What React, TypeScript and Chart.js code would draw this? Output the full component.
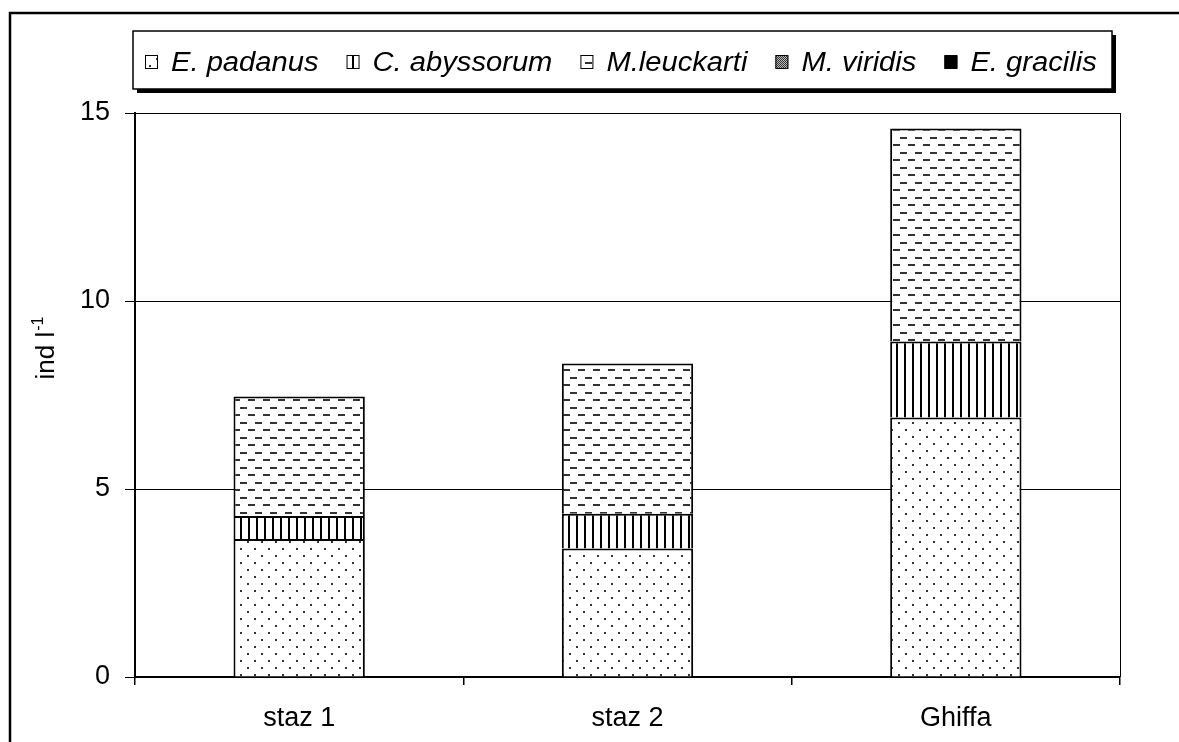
import React, { useEffect, useRef } from 'react';
import { Chart, registerables } from 'chart.js';

Chart.register(...registerables);

const categories = ['staz 1', 'staz 2', 'Ghiffa'];
const seriesNames = ['E. padanus', 'C. abyssorum', 'M.leuckarti', 'M. viridis', 'E. gracilis'];
const ePadanus = [3.67, 3.42, 6.9];
const cAbyssorum = [0.61, 0.92, 2.02];
const mLeuckarti = [3.18, 4.0, 5.67];
const mViridis = [0, 0, 0];
const eGracilis = [0, 0, 0];
const yTicks = [0, 5, 10, 15];
const yTitleMain = 'ind l';
const yTitleSup = '-1';

const FONT = "'Liberation Sans', Arial, sans-serif";

function makePattern(kind: string): CanvasPattern | string {
  if (kind === 'solid') return '#000000';
  const c = document.createElement('canvas');
  const ctx = c.getContext('2d') as CanvasRenderingContext2D;
  if (kind === 'dots') {
    c.width = 14; c.height = 14;
    ctx.fillStyle = '#ffffff'; ctx.fillRect(0, 0, 14, 14);
    ctx.fillStyle = '#333333';
    ctx.fillRect(2, 2, 2, 2);
    ctx.fillRect(9, 9, 2, 2);
  } else if (kind === 'vlines') {
    c.width = 8; c.height = 8;
    ctx.fillStyle = '#ffffff'; ctx.fillRect(0, 0, 8, 8);
    ctx.fillStyle = '#000000';
    ctx.fillRect(0, 0, 2, 8);
  } else if (kind === 'dashes') {
    c.width = 15; c.height = 15;
    ctx.fillStyle = '#ffffff'; ctx.fillRect(0, 0, 15, 15);
    ctx.fillStyle = '#333333';
    ctx.fillRect(0, 2, 7, 2);
    ctx.fillRect(8, 9, 7, 2);
  } else if (kind === 'checker') {
    c.width = 2; c.height = 2;
    ctx.fillStyle = '#bbbbbb'; ctx.fillRect(0, 0, 2, 2);
    ctx.fillStyle = '#333333';
    ctx.fillRect(0, 0, 1, 1);
    ctx.fillRect(1, 1, 1, 1);
  }
  const p = ctx.createPattern(c, 'repeat');
  return p as CanvasPattern;
}

export default function App() {
  const ref = useRef<HTMLCanvasElement | null>(null);

  useEffect(() => {
    const canvas = ref.current;
    if (!canvas) return;
    const fills = [
      makePattern('dots'),
      makePattern('vlines'),
      makePattern('dashes'),
      makePattern('checker'),
      makePattern('solid'),
    ];
    const values = [ePadanus, cAbyssorum, mLeuckarti, mViridis, eGracilis];

    const framePlugin = {
      id: 'framePlugin',
      beforeDraw(chart: any) {
        const ctx = chart.ctx as CanvasRenderingContext2D;
        ctx.save();
        ctx.fillStyle = '#ffffff';
        ctx.fillRect(0, 0, chart.width, chart.height);
        ctx.restore();
      },
      afterDraw(chart: any) {
        const ctx = chart.ctx as CanvasRenderingContext2D;
        const a = chart.chartArea;
        ctx.save();
        // right border of plot area
        ctx.strokeStyle = '#000000';
        ctx.lineWidth = 1;
        ctx.beginPath();
        ctx.moveTo(a.right + 0.5, a.top);
        ctx.lineTo(a.right + 0.5, a.bottom);
        ctx.stroke();
        // outer frame
        ctx.lineWidth = 2.5;
        ctx.strokeRect(10, 13, 1400, 1000);

        // legend box with shadow
        const lx = 133, ly = 31, lw = 979, lh = 58;
        ctx.fillStyle = '#000000';
        ctx.fillRect(lx + 4, ly + 4, lw, lh);
        ctx.fillStyle = '#ffffff';
        ctx.fillRect(lx, ly, lw, lh);
        ctx.lineWidth = 1.5;
        ctx.strokeStyle = '#000000';
        ctx.strokeRect(lx, ly, lw, lh);

        const sx = 1.08;
        ctx.font = `italic 27px ${FONT}`;
        ctx.textBaseline = 'alphabetic';
        ctx.textAlign = 'left';
        let x = 145;
        seriesNames.forEach((name, i) => {
          ctx.fillStyle = fills[i] as any;
          ctx.fillRect(x, 55.5, 13, 13);
          ctx.lineWidth = 1;
          ctx.strokeStyle = '#000000';
          ctx.strokeRect(x + 0.5, 55.5, 12, 13);
          const tx = x + 26;
          const w = ctx.measureText(name).width * sx;
          ctx.save();
          ctx.translate(tx, 71);
          ctx.scale(sx, 1);
          ctx.fillStyle = '#000000';
          ctx.fillText(name, 0, 0);
          ctx.restore();
          x = tx + w + 28;
        });

        // y axis title with superscript
        const cy = 348;
        ctx.translate(54, cy);
        ctx.rotate(-Math.PI / 2);
        ctx.fillStyle = '#000000';
        ctx.font = `26px ${FONT}`;
        const wMain = ctx.measureText(yTitleMain).width;
        ctx.font = `16px ${FONT}`;
        const wSup = ctx.measureText(yTitleSup).width;
        const start = -(wMain + 1 + wSup) / 2;
        ctx.font = `26px ${FONT}`;
        ctx.fillText(yTitleMain, start, 0);
        ctx.font = `16px ${FONT}`;
        ctx.fillText(yTitleSup, start + wMain + 1, -11);
        ctx.restore();
      },
    };

    const chart = new Chart(canvas, {
      type: 'bar',
      data: {
        labels: categories,
        datasets: seriesNames.map((name, i) => ({
          label: name,
          data: values[i],
          backgroundColor: fills[i] as any,
          borderColor: '#000000',
          borderWidth: 2,
          barPercentage: 0.4,
          categoryPercentage: 1,
        })),
      },
      options: {
        responsive: false,
        animation: false,
        devicePixelRatio: 1,
        layout: { padding: { top: 113, right: 59, left: 0, bottom: 0 } },
        plugins: {
          legend: { display: false },
          tooltip: { enabled: false },
          title: { display: false },
        },
        scales: {
          x: {
            stacked: true,
            grid: {
              offset: true,
              drawOnChartArea: false,
              drawTicks: true,
              tickLength: 8,
              color: '#000000',
              lineWidth: 1.5,
            },
            border: { display: true, color: '#000000', width: 2 },
            ticks: {
              color: '#000000',
              font: { family: FONT, size: 27 },
              padding: 17,
            },
            afterFit: (s: any) => { s.height = 65; },
          },
          y: {
            stacked: true,
            min: 0,
            max: 15,
            afterBuildTicks: (s: any) => { s.ticks = yTicks.map((v) => ({ value: v })); },
            ticks: {
              color: '#000000',
              font: { family: FONT, size: 27 },
              padding: 15,
            },
            grid: { color: '#000000', lineWidth: 1, tickLength: 10, drawTicks: true },
            border: { display: true, color: '#000000', width: 2 },
            afterFit: (s: any) => { s.width = 135; },
          },
        },
      },
      plugins: [framePlugin],
    });
    return () => chart.destroy();
  }, []);

  return (
    <div style={{ position: 'fixed', left: 0, top: 0, width: 1179, height: 742, background: '#fff' }}>
      <canvas ref={ref} width={1179} height={742} style={{ display: 'block', width: 1179, height: 742 }} />
    </div>
  );
}
